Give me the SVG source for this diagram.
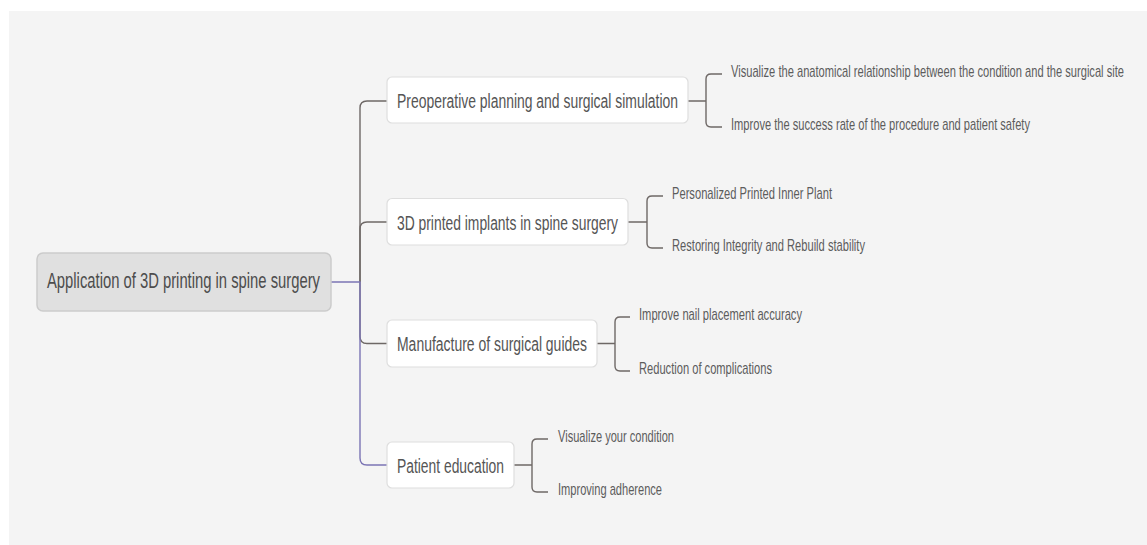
<svg xmlns="http://www.w3.org/2000/svg" width="1147" height="545" viewBox="0 0 1147 545">
<style>
.bg{fill:#f4f4f4}
.root rect{fill:#e0e0e0;stroke:#cbcbcb;stroke-width:1.5}
.branch rect{fill:#ffffff;stroke:#dedede;stroke-width:1.2}
.root text{font-family:"Liberation Sans",Arial,sans-serif;font-size:22px;fill:#4d4d4d}
.branch text{font-family:"Liberation Sans",Arial,sans-serif;font-size:21px;fill:#555555}
.leaf text{font-family:"Liberation Sans",Arial,sans-serif;font-size:16px;fill:#5c5c5c}
.c{fill:none;stroke:#6e6866;stroke-width:1.4}
.p{fill:none;stroke:#7b74b4;stroke-width:1.4}
</style>
<rect class="bg" x="9" y="11" width="1138" height="534"/>
<g id="connectors">
<path class="c" d="M360,282 V108 Q360,101 367,101 H387"/>
<path class="c" d="M360,282 V229 Q360,222 367,222 H387"/>
<path class="c" d="M360,282 V336.5 Q360,343.5 367,343.5 H387"/>
<path class="p" d="M331,282 H360 V458 Q360,465 367,465 H387"/>
<path class="c" d="M688,101 H706 M722,74 H711 Q706,74 706,79 V122 Q706,127 711,127 H722"/>
<path class="c" d="M628,222 H647 M663,196 H652 Q647,196 647,201 V243 Q647,248 652,248 H663"/>
<path class="c" d="M597,343.5 H615 M630,317 H620 Q615,317 615,322 V366 Q615,371 620,371 H630"/>
<path class="c" d="M514,465 H532 M548,439 H537 Q532,439 532,444 V487 Q532,492 537,492 H548"/>
</g>
<g id="root" class="root">
<rect x="37" y="253" width="294" height="58" rx="6"/>
<text transform="translate(47,288) scale(0.7,1)" textLength="390" lengthAdjust="spacingAndGlyphs">Application of 3D printing in spine surgery</text>
</g>
<g id="b1" class="branch">
<rect x="387" y="77" width="301" height="46" rx="5"/>
<text transform="translate(397,107.5) scale(0.7,1)" textLength="401.4" lengthAdjust="spacingAndGlyphs">Preoperative planning and surgical simulation</text>
</g>
<g id="b2" class="branch">
<rect x="387" y="198.5" width="241" height="46.5" rx="5"/>
<text transform="translate(397,229.5) scale(0.7,1)" textLength="315.7" lengthAdjust="spacingAndGlyphs">3D printed implants in spine surgery</text>
</g>
<g id="b3" class="branch">
<rect x="387" y="320" width="210" height="47" rx="5"/>
<text transform="translate(397,351) scale(0.7,1)" textLength="271.4" lengthAdjust="spacingAndGlyphs">Manufacture of surgical guides</text>
</g>
<g id="b4" class="branch">
<rect x="387" y="442" width="127" height="46" rx="5"/>
<text transform="translate(397,472.5) scale(0.7,1)" textLength="152.9" lengthAdjust="spacingAndGlyphs">Patient education</text>
</g>
<g id="l1a" class="leaf"><text transform="translate(731,77) scale(0.7,1)" textLength="561.4" lengthAdjust="spacingAndGlyphs">Visualize the anatomical relationship between the condition and the surgical site</text></g>
<g id="l1b" class="leaf"><text transform="translate(731,130) scale(0.7,1)" textLength="427.1" lengthAdjust="spacingAndGlyphs">Improve the success rate of the procedure and patient safety</text></g>
<g id="l2a" class="leaf"><text transform="translate(672,199) scale(0.7,1)" textLength="228.6" lengthAdjust="spacingAndGlyphs">Personalized Printed Inner Plant</text></g>
<g id="l2b" class="leaf"><text transform="translate(672,251) scale(0.7,1)" textLength="275.7" lengthAdjust="spacingAndGlyphs">Restoring Integrity and Rebuild stability</text></g>
<g id="l3a" class="leaf"><text transform="translate(639,320) scale(0.7,1)" textLength="232.9" lengthAdjust="spacingAndGlyphs">Improve nail placement accuracy</text></g>
<g id="l3b" class="leaf"><text transform="translate(639,374) scale(0.7,1)" textLength="190" lengthAdjust="spacingAndGlyphs">Reduction of complications</text></g>
<g id="l4a" class="leaf"><text transform="translate(558,442) scale(0.7,1)" textLength="165.7" lengthAdjust="spacingAndGlyphs">Visualize your condition</text></g>
<g id="l4b" class="leaf"><text transform="translate(558,495) scale(0.7,1)" textLength="148.6" lengthAdjust="spacingAndGlyphs">Improving adherence</text></g>
</svg>
